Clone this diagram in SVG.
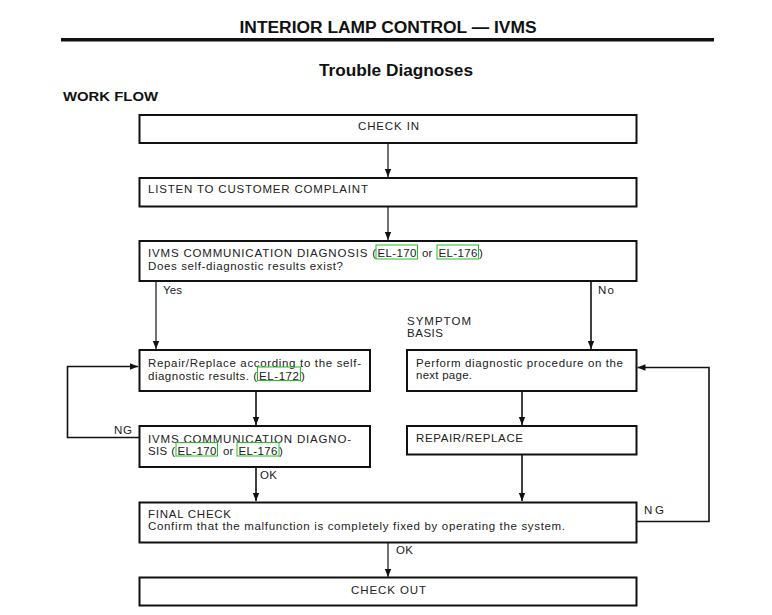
<svg xmlns="http://www.w3.org/2000/svg" width="772" height="615" viewBox="0 0 772 615">
<style>
.box{fill:#fff;stroke:#111;stroke-width:2}
.t{font-family:"Liberation Sans",Arial,sans-serif;font-size:11.5px;fill:#222}
.ln{fill:none;stroke:#111;stroke-width:1.6}
.thin{stroke-width:1.2}
.ref{fill:none;stroke:#22c022;stroke-width:1}
.h{font-family:"Liberation Sans",Arial,sans-serif;fill:#111}
</style>
<defs>
<marker id="ar" markerUnits="userSpaceOnUse" markerWidth="8" markerHeight="8" viewBox="0 0 8 8" refX="8" refY="4" orient="auto">
<path d="M0,0.8 L8,4 L0,7.2 Z" fill="#111"/>
</marker>
</defs>
<rect width="772" height="615" fill="#fff"/>
<text class="h" x="388" y="33" font-size="16" font-weight="bold" text-anchor="middle" textLength="297" lengthAdjust="spacingAndGlyphs">INTERIOR LAMP CONTROL — IVMS</text>
<rect x="61" y="38" width="653" height="3.5" fill="#111"/>
<text class="h" x="396" y="76" font-size="16" font-weight="bold" text-anchor="middle" textLength="154" lengthAdjust="spacingAndGlyphs">Trouble Diagnoses</text>
<text class="h" x="63" y="101" font-size="13" font-weight="bold" textLength="95" lengthAdjust="spacingAndGlyphs">WORK FLOW</text>

<g id="connectors">
<line class="ln thin" x1="388" y1="143" x2="388" y2="177" marker-end="url(#ar)"/>
<line class="ln thin" x1="388" y1="207" x2="388" y2="240" marker-end="url(#ar)"/>
<line class="ln thin" x1="156" y1="281" x2="156" y2="349" marker-end="url(#ar)"/>
<text class="t" x="163" y="294" textLength="19" lengthAdjust="spacing">Yes</text>
<line class="ln" x1="591" y1="281" x2="591" y2="349" marker-end="url(#ar)"/>
<text class="t" x="598" y="294" textLength="16" lengthAdjust="spacing">No</text>
<text class="t" x="407" y="324.5" textLength="64" lengthAdjust="spacing">SYMPTOM</text>
<text class="t" x="407" y="337" textLength="36" lengthAdjust="spacing">BASIS</text>
<line class="ln" x1="256" y1="391" x2="256" y2="425" marker-end="url(#ar)"/>
<polyline class="ln" points="139,437.5 67.5,437.5 67.5,366.5 138,366.5" marker-end="url(#ar)"/>
<text class="t" x="114" y="434" textLength="18" lengthAdjust="spacing">NG</text>
<line class="ln" x1="256" y1="467" x2="256" y2="501" marker-end="url(#ar)"/>
<text class="t" x="260" y="479" textLength="17" lengthAdjust="spacing">OK</text>
<line class="ln" x1="522" y1="391" x2="522" y2="425" marker-end="url(#ar)"/>
<line class="ln" x1="522" y1="454" x2="522" y2="501" marker-end="url(#ar)"/>
<polyline class="ln" points="637,521.5 709,521.5 709,367.5 637.5,367.5" marker-end="url(#ar)"/>
<text class="t" x="644" y="514" textLength="20" lengthAdjust="spacing">NG</text>
<line class="ln thin" x1="388" y1="543" x2="388" y2="577" marker-end="url(#ar)"/>
<text class="t" x="396" y="554" textLength="17" lengthAdjust="spacing">OK</text>
</g>

<g id="check-in">
<rect class="box" x="139.5" y="115" width="497" height="28"/>
<text class="t" x="358" y="130" textLength="61" lengthAdjust="spacing">CHECK IN</text>
</g>
<g id="listen">
<rect class="box" x="139.5" y="178" width="497" height="28.5"/>
<text class="t" x="148" y="193" textLength="220" lengthAdjust="spacing">LISTEN TO CUSTOMER COMPLAINT</text>
</g>
<g id="ivms-diag">
<rect class="box" x="139.5" y="241" width="497" height="40"/>
<text class="t" x="148" y="257" textLength="228" lengthAdjust="spacing">IVMS COMMUNICATION DIAGNOSIS (</text>
<text class="t" x="377.5" y="257" textLength="39" lengthAdjust="spacing">EL-170</text>
<text class="t" x="422" y="257">or</text>
<text class="t" x="438.5" y="257" textLength="39" lengthAdjust="spacing">EL-176</text>
<text class="t" x="479" y="257">)</text>
<text class="t" x="148" y="269.5" textLength="195" lengthAdjust="spacing">Does self-diagnostic results exist?</text>
<rect class="ref" x="376" y="245" width="41.5" height="14"/>
<rect class="ref" x="437" y="245" width="41.5" height="14"/>
</g>
<g id="repair-self">
<rect class="box" x="139.5" y="350" width="230.5" height="41"/>
<text class="t" x="148" y="367" textLength="213" lengthAdjust="spacing">Repair/Replace according to the self-</text>
<text class="t" x="148" y="379.5" textLength="109" lengthAdjust="spacing">diagnostic results. (</text>
<text class="t" x="259" y="379.5" textLength="40" lengthAdjust="spacing">EL-172</text>
<text class="t" x="301" y="379.5">)</text>
<rect class="ref" x="257.5" y="367" width="43" height="13.5"/>
</g>
<g id="ivms-diag-2">
<rect class="box" x="139.5" y="426" width="230.5" height="41"/>
<text class="t" x="148" y="442.5" textLength="203" lengthAdjust="spacing">IVMS COMMUNICATION DIAGNO-</text>
<text class="t" x="148" y="455" textLength="27" lengthAdjust="spacing">SIS (</text>
<text class="t" x="177.5" y="455" textLength="39" lengthAdjust="spacing">EL-170</text>
<text class="t" x="223" y="455">or</text>
<text class="t" x="238.5" y="455" textLength="39" lengthAdjust="spacing">EL-176</text>
<text class="t" x="279" y="455">)</text>
<rect class="ref" x="176" y="442.5" width="41.5" height="13.5"/>
<rect class="ref" x="237" y="442.5" width="42" height="13.5"/>
</g>
<g id="perform">
<rect class="box" x="407" y="350" width="229.5" height="41"/>
<text class="t" x="416" y="366.5" textLength="207" lengthAdjust="spacing">Perform diagnostic procedure on the</text>
<text class="t" x="416" y="379" textLength="56" lengthAdjust="spacing">next page.</text>
</g>
<g id="repair-replace">
<rect class="box" x="407" y="426" width="229.5" height="28.5"/>
<text class="t" x="416" y="442" textLength="107" lengthAdjust="spacing">REPAIR/REPLACE</text>
</g>
<g id="final-check">
<rect class="box" x="139.5" y="502.5" width="497" height="40"/>
<text class="t" x="148" y="517.5" textLength="83" lengthAdjust="spacing">FINAL CHECK</text>
<text class="t" x="148" y="530" textLength="417" lengthAdjust="spacing">Confirm that the malfunction is completely fixed by operating the system.</text>
</g>
<g id="check-out">
<rect class="box" x="139.5" y="577.5" width="497" height="28"/>
<text class="t" x="351" y="593.5" textLength="75" lengthAdjust="spacing">CHECK OUT</text>
</g>
</svg>
